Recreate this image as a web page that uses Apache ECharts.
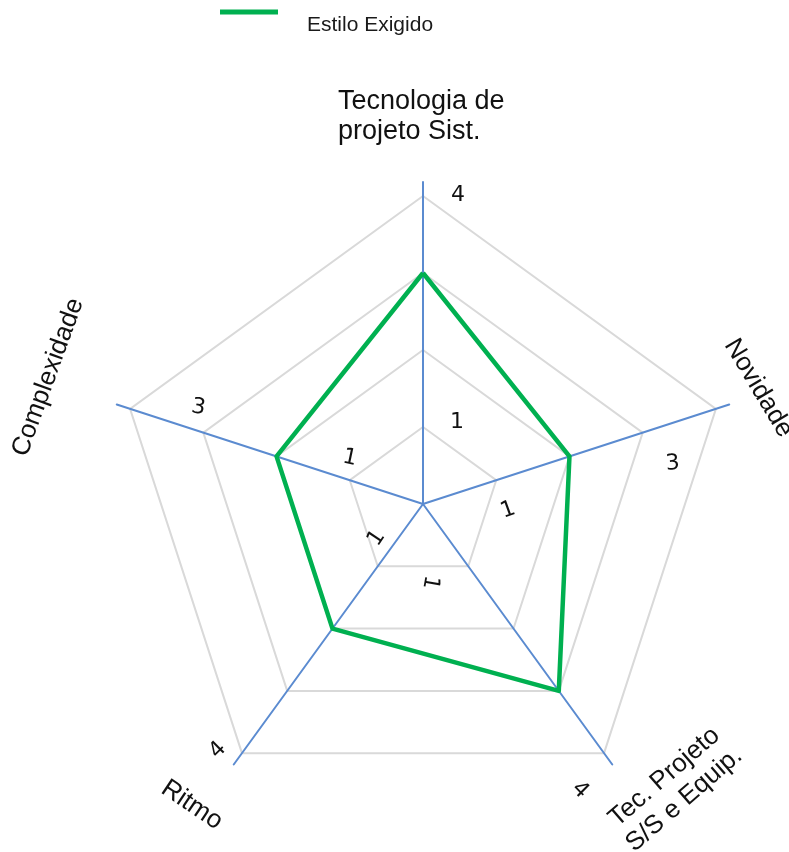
<!DOCTYPE html>
<html>
<head>
<meta charset="utf-8">
<script src="https://cdn.jsdelivr.net/npm/echarts@6.0.0/dist/echarts.min.js"></script>
<style>
html,body{margin:0;padding:0;background:#fff;}
#chart{width:789px;height:852px;}
</style>
</head>
<body>
<div id="chart"></div>
<script>
// indicadores na ordem do echarts (anti-horário a partir do topo)
var axisNames = ['Tecnologia de\nprojeto Sist.', 'Complexidade', 'Ritmo', 'Tec. Projeto\nS/S e Equip.', 'Novidade'];
var axisMax = 4;
var seriesName = 'Estilo Exigido';
var estiloExigido = [3, 2, 2, 3, 2];

// rótulos de escala soltos (eixo, valor)
var tickAxis = [0, 0, 4, 4, 3, 3, 2, 2, 1, 1];
var tickValue = [4, 1, 3, 1, 4, 1, 4, 1, 3, 1];

// ajustes de posição dos textos (layout)
var tickShift = [[35,-1],[34,-5],[30,31],[12,30],[-24,37],[-38,16],[-24,-3],[-1,-28],[-5,-25],[0,-22]];
var tickTurn = [0, 0, -5, -20, 45, 100, -45, -56, 10, 12];
var nameAt = [5.03, 5.16, 4.93, 5.0, 4.58];
var nameShift = [[-85,0],[3,-4],[-8,-6],[25,-27],[0,-7]];
var nameTurn = [0, -70, 34, -41, 59];

var FONT = '"Liberation Sans", Arial, sans-serif';
var TICKFONT = '"DejaVu Sans", sans-serif';
var CENTER = [423, 504];

var chartDom = document.getElementById('chart');
var myChart = echarts.init(chartDom);

var option = {
  animation: false,
  legend: {
    left: 220,
    top: -15,
    padding: 0,
    icon: 'rect',
    itemWidth: 58,
    itemHeight: 5,
    data: [seriesName],
    formatter: function (n) { return '\n' + n; },
    textStyle: {
      fontFamily: FONT,
      fontSize: 21,
      lineHeight: 27,
      color: '#1a1a1a',
      padding: [0, 0, 0, 24]
    }
  },
  radar: [
    {
      center: CENTER,
      radius: 308,
      startAngle: 90,
      splitNumber: 4,
      shape: 'polygon',
      indicator: axisNames.map(function (n) { return { name: n, max: axisMax, min: 0 }; }),
      axisName: { show: false },
      axisLine: { show: false },
      axisTick: { show: false },
      axisLabel: { show: false },
      splitArea: { show: false },
      splitLine: { lineStyle: { color: '#d9d9d9', width: 2 } }
    },
    {
      center: CENTER,
      radius: 322,
      startAngle: 90,
      splitNumber: 1,
      shape: 'polygon',
      indicator: axisNames.map(function (n) { return { name: n, max: axisMax, min: 0 }; }),
      axisName: { show: false },
      axisLine: { lineStyle: { color: '#5b8bd0', width: 2 } },
      axisTick: { show: false },
      axisLabel: { show: false },
      splitArea: { show: false },
      splitLine: { show: false }
    }
  ],
  series: [
    {
      name: seriesName,
      type: 'radar',
      radarIndex: 0,
      symbol: 'none',
      itemStyle: { color: '#00b050' },
      lineStyle: { color: '#00b050', width: 4.5 },
      data: [{ value: estiloExigido, name: seriesName }]
    }
  ]
};
myChart.setOption(option);

// posições dos textos a partir do sistema de coordenadas do radar
var radarCs = myChart.getModel().getComponent('radar', 0).coordinateSystem;
function pt(v, i) { return radarCs.dataToPoint(v, i); }

var graphics = [];
axisNames.forEach(function (n, i) {
  var p = pt(nameAt[i], i);
  graphics.push({
    type: 'text',
    x: p[0] + nameShift[i][0],
    y: p[1] + nameShift[i][1],
    rotation: -nameTurn[i] * Math.PI / 180,
    style: {
      text: n,
      font: (i === 0 ? '27px ' : '26px ') + FONT,
      fill: '#111',
      align: i === 0 ? 'left' : 'center',
      verticalAlign: 'middle',
      lineHeight: 30
    }
  });
});
tickAxis.forEach(function (a, k) {
  var p = pt(tickValue[k], a);
  graphics.push({
    type: 'text',
    x: p[0] + tickShift[k][0],
    y: p[1] + tickShift[k][1],
    rotation: -tickTurn[k] * Math.PI / 180,
    style: {
      text: String(tickValue[k]),
      font: '22px ' + TICKFONT,
      fill: '#111',
      align: 'center',
      verticalAlign: 'middle'
    }
  });
});
myChart.setOption({ graphic: graphics });

window.addEventListener('resize', function () { myChart.resize(); });
</script>
</body>
</html>
